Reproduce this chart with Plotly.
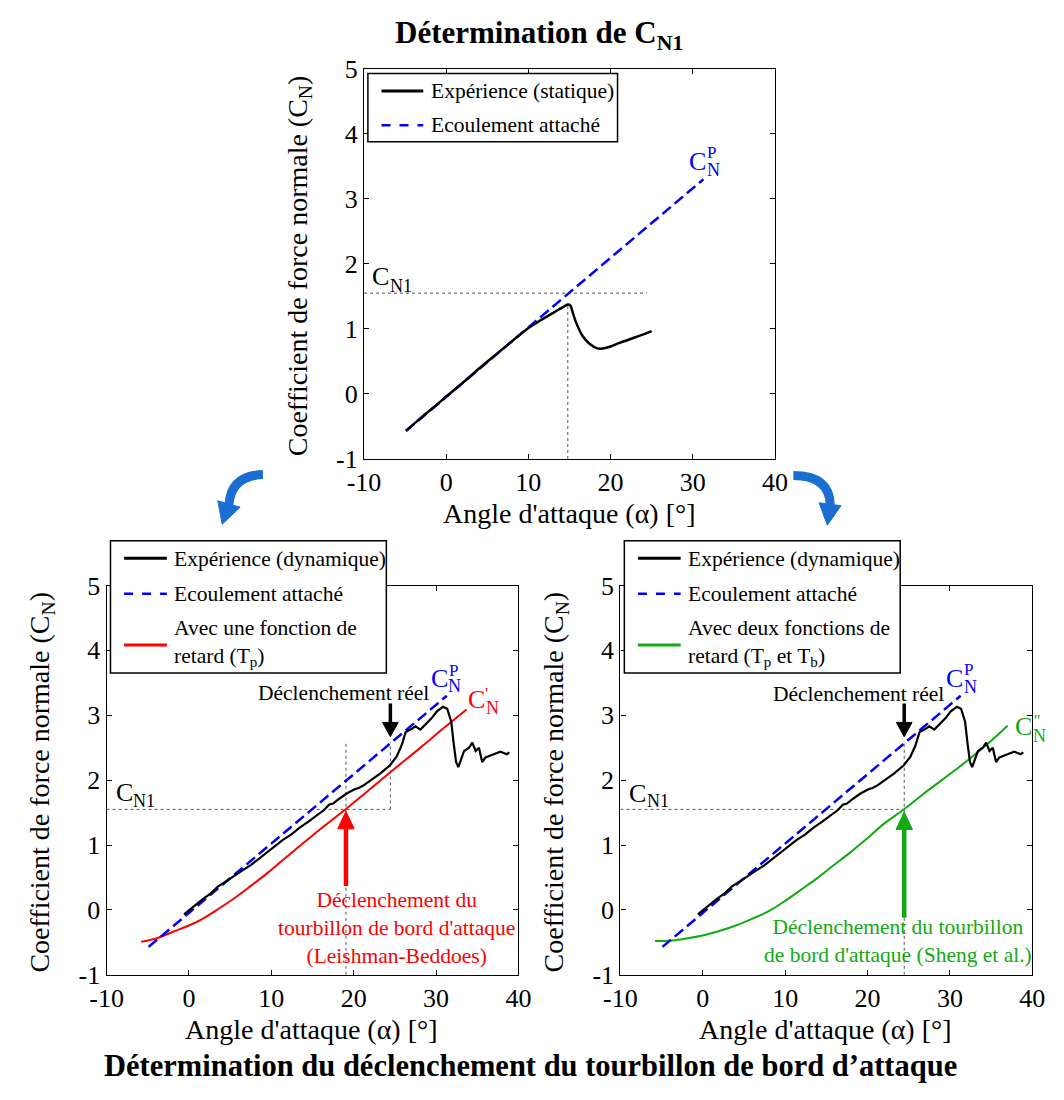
import numpy as np
import plotly.graph_objects as go

# target picture size and the browser's default body margin
W_PAGE, H_PAGE = 1064, 1100
OFF = 8
W, H = W_PAGE - 2 * OFF, H_PAGE - 2 * OFF
FONT = "Liberation Serif"

# ---------------- data ----------------
x_ticks = [-10, 0, 10, 20, 30, 40]
x_ticktext = ["-10", "0", "10", "20", "30", "40"]
y_ticks = [-1, 0, 1, 2, 3, 4, 5]
y_ticktext = ["-1", "0", "1", "2", "3", "4", "5"]

# static experiment (top panel)
alpha_static = [-4.9, -3.0, -1.0, 0.0, 2.0, 4.0, 6.0, 8.0, 10.1, 11.2, 12.4, 13.6, 14.4, 14.8,
                15.1, 15.4, 15.8, 16.6, 17.4, 18.4, 19.1, 20.0, 21.1, 22.1, 23.1, 24.1, 25.0]
cn_static = [-0.565, -0.36, -0.15, -0.04, 0.17, 0.39, 0.60, 0.81, 1.02, 1.11, 1.20, 1.29, 1.35, 1.375,
             1.36, 1.25, 1.10, 0.89, 0.775, 0.70, 0.70, 0.73, 0.785, 0.83, 0.875, 0.92, 0.965]

# attached flow (C_N^P)
alpha_attached = [-4.9, 31.3]
cn_attached = [-0.57, 3.3]

# dynamic experiment (bottom panels)
alpha_dyn = [-0.6, 0.4, 1.6, 2.6, 3.5, 4.5, 5.5, 6.5, 7.5, 8.5, 9.4, 10.4, 11.4, 12.4, 13.4, 14.5,
             15.5, 16.4, 17.0, 17.5, 18.2, 19.1, 20.1, 20.6, 21.2, 22.2, 23.2, 24.4, 25.2, 25.8,
             26.3, 26.9, 27.5, 28.1, 28.9, 29.5, 30.1, 30.85, 31.35, 31.84, 32.15, 32.43, 32.7,
             33.0, 33.4, 34.0, 34.4, 34.8, 35.2, 35.6, 36.0, 37.0, 37.8, 38.6, 38.9]
cn_dyn = [-0.07, 0.04, 0.16, 0.25, 0.36, 0.44, 0.53, 0.61, 0.69, 0.79, 0.88, 0.97, 1.08, 1.16, 1.265, 1.36,
          1.46, 1.54, 1.62, 1.64, 1.71, 1.79, 1.86, 1.88, 1.92, 2.01, 2.10, 2.23, 2.36, 2.53,
          2.74, 2.78, 2.83, 2.78, 2.88, 2.96, 3.06, 3.13, 3.10, 2.90, 2.55, 2.28, 2.20,
          2.32, 2.45, 2.50, 2.58, 2.45, 2.50, 2.28, 2.35, 2.40, 2.44, 2.40, 2.43]

# one delay function (Leishman-Beddoes, T_p)
alpha_lb = [-5.8, -4.0, -2.0, 0.0, 1.6, 3.5, 5.5, 7.5, 9.4, 11.4, 13.4, 15.7, 19.06, 22.0, 25.0, 28.0, 31.0, 33.7]
cn_lb = [-0.49, -0.44, -0.34, -0.24, -0.14, 0.01, 0.18, 0.37, 0.556, 0.77, 0.98, 1.22, 1.555, 1.865, 2.18, 2.49, 2.81, 3.09]

# two delay functions (Sheng et al., T_p and T_b)
alpha_sheng = [-5.8, -3.8, -2.0, 0.1, 2.0, 4.0, 6.0, 8.0, 10.0, 11.9, 13.9, 15.8, 17.8, 19.75, 22.0,
               24.47, 27.0, 29.0, 31.2, 34.3, 37.0]
cn_sheng = [-0.48, -0.47, -0.44, -0.39, -0.325, -0.24, -0.135, -0.02, 0.14, 0.31, 0.49, 0.68, 0.875, 1.08, 1.33,
            1.555, 1.81, 2.0, 2.21, 2.53, 2.84]

CN1 = 1.55
alpha_stall_static = 14.8
cn_peak_static = 1.375
alpha_onset_real = 24.45
alpha_onset_lb = 19.06
alpha_onset_sheng = 24.45
cn_dotted_top = 2.58
cn_arrow_real = [3.18, 2.67]      # tail, tip
cn_arrow_lb_tail = 0.37
cn_arrow_sheng_tail = -0.12

# ---------------- geometry (page pixels) ----------------
boxes = {"": (357, 780, 56, 457), "2": (92, 516, 587, 987), "3": (621, 1045, 587, 987)}


def px(x, y):
    return (x - OFF) / W, 1 - (y - OFF) / H


BLACK = "#000000"
BLUE = "#0000ff"
RED = "#ff0000"
GREEN = "#11aa11"
DOT = "#555555"

fig = go.Figure()


def add_line(xs, ys, ax, color, width, dash="solid", shape="linear"):
    fig.add_trace(go.Scatter(x=xs, y=ys, mode="lines", xaxis="x" + ax, yaxis="y" + ax,
                             line=dict(color=color, width=width, dash=dash, shape=shape),
                             showlegend=False, hoverinfo="skip"))


DASH = "11px,5px"
# top panel
add_line([-10, alpha_onset_real], [CN1, CN1], "", DOT, 1, "dot")
add_line([alpha_stall_static, alpha_stall_static], [-1, cn_peak_static], "", DOT, 1, "dot")
add_line(alpha_attached, cn_attached, "", BLUE, 2.5, DASH)
add_line(alpha_static, cn_static, "", BLACK, 2.5, shape="spline")

# bottom-left panel
add_line([-10, alpha_onset_real], [CN1, CN1], "2", DOT, 1, "dot")
add_line([alpha_onset_lb, alpha_onset_lb], [-1, cn_dotted_top], "2", DOT, 1, "dot")
add_line([alpha_onset_real, alpha_onset_real], [CN1, cn_dotted_top], "2", DOT, 1, "dot")
add_line(alpha_lb, cn_lb, "2", RED, 2, shape="spline")
add_line(alpha_attached, cn_attached, "2", BLUE, 2.5, DASH)
add_line(alpha_dyn, cn_dyn, "2", BLACK, 2.2)

# bottom-right panel
cn_att_onset = float(np.interp(alpha_onset_sheng, alpha_attached, cn_attached))
add_line([-10, alpha_onset_sheng], [CN1, CN1], "3", DOT, 1, "dot")
add_line([alpha_onset_sheng, alpha_onset_sheng], [-1, cn_att_onset], "3", DOT, 1, "dot")
add_line(alpha_sheng, cn_sheng, "3", GREEN, 2, shape="spline")
add_line(alpha_attached, cn_attached, "3", BLUE, 2.5, DASH)
add_line(alpha_dyn, cn_dyn, "3", BLACK, 2.2)

# ---------------- axes ----------------
layout_axes = {}
for k, (x0, x1, y0, y1) in boxes.items():
    common = dict(showline=True, linecolor="black", linewidth=1.3, mirror="allticks",
                  ticks="inside", ticklen=5, tickwidth=1, tickcolor="black",
                  showgrid=False, zeroline=False,
                  tickfont=dict(family=FONT, size=26, color="black"))
    dx0, dy1 = px(x0, y0)
    dx1, dy0 = px(x1, y1)
    layout_axes["xaxis" + k] = dict(common, domain=[dx0, dx1], range=[-10, 40],
                                    tickvals=x_ticks, ticktext=x_ticktext, anchor="y" + k)
    layout_axes["yaxis" + k] = dict(common, domain=[dy0, dy1], range=[-1, 5],
                                    tickvals=y_ticks, ticktext=y_ticktext, anchor="x" + k)

shapes = []
annotations = []


def ann(text, x, y, size=21, color="black", xanchor="center", yanchor="middle",
        align="center", angle=0):
    xx, yy = px(x, y)
    annotations.append(dict(text=text, x=xx, y=yy, xref="paper", yref="paper", showarrow=False,
                            font=dict(family=FONT, size=size, color=color), xanchor=xanchor,
                            yanchor=yanchor, align=align, textangle=angle))


# titles
ann("<b>Détermination de C<sub>N1</sub></b>", 537, 21, size=31)
ann("<b>Détermination du déclenchement du tourbillon de bord d’attaque</b>", 528, 1081, size=30.5)

# axis titles
xt = "Angle d'attaque (α) [°]"
yt = "Coefficient de force normale (C<sub>N</sub>)"
ann(xt, 568, 513, size=28)
ann(xt, 302, 1043, size=28)
ann(xt, 832, 1043, size=28)
ann(yt, 290, 258, size=28, angle=-90)
ann(yt, 25, 789, size=28, angle=-90)
ann(yt, 554, 789, size=28, angle=-90)


# legends
def legend(box, samples_x, text_x, entries):
    bx0, by0, bx1, by1 = box
    a, b = px(bx0, by0)
    c, d = px(bx1, by1)
    shapes.append(dict(type="rect", xref="paper", yref="paper", x0=a, y0=d, x1=c, y1=b,
                       fillcolor="white", line=dict(color="black", width=1.5), layer="above"))
    for (text, ty, ly, color, width, dash) in entries:
        sx0, sy = px(samples_x[0], ly)
        sx1, _ = px(samples_x[1], ly)
        shapes.append(dict(type="line", xref="paper", yref="paper", x0=sx0, y0=sy, x1=sx1, y1=sy,
                           line=dict(color=color, width=width, dash=dash), layer="above"))
        ann(text, text_x, ty, size=21.5, xanchor="left", align="left")


legend((361, 61, 618, 131), (375, 418), 424, [
    ("Expérience (statique)", 79, 79, BLACK, 3, "solid"),
    ("Ecoulement attaché", 114, 114, BLUE, 2.5, "dash"),
])
legend((96, 541, 380, 677), (110, 154), 159, [
    ("Expérience (dynamique)", 559.5, 559, BLACK, 3, "solid"),
    ("Ecoulement attaché", 596, 595.5, BLUE, 2.5, "dash"),
    ("Avec une fonction de<br>retard (T<sub>p</sub>)", 646, 648, RED, 3, "solid"),
])
legend((625, 541, 909, 677), (639, 683), 688, [
    ("Expérience (dynamique)", 559.5, 559, BLACK, 3, "solid"),
    ("Ecoulement attaché", 596, 595.5, BLUE, 2.5, "dash"),
    ("Avec deux fonctions de<br>retard (T<sub>p</sub> et T<sub>b</sub>)", 646, 648, GREEN, 3, "solid"),
])


# curve labels (C, sub, sup glyphs placed individually)
def label(parts):
    for text, x, y, size, color in parts:
        ann(text, x, y, size=size, color=color)


label([("C", 374, 269.5, 26, BLACK), ("N1", 395, 279, 18, BLACK),
       ("C", 700, 151, 26, BLUE), ("P", 715, 142.5, 17, BLUE), ("N", 716.5, 160, 18, BLUE)])
label([("C", 110, 800, 26, BLACK), ("N1", 131, 808, 18, BLACK),
       ("C", 435, 683, 26, BLUE), ("P", 449.5, 674, 17, BLUE), ("N", 450.5, 690, 18, BLUE),
       ("C", 473, 704, 26, RED), ("'", 483, 698, 17, RED), ("N", 489.5, 713, 18, RED)])
label([("C", 639, 800.5, 26, BLACK), ("N1", 660, 808, 18, BLACK),
       ("C", 965, 683, 26, BLUE), ("P", 979, 673, 17, BLUE), ("N", 981, 691, 18, BLUE),
       ("C", 1036, 732, 26, GREEN), ("''", 1049.5, 726, 17, GREEN), ("N", 1052, 742, 18, GREEN)])

ann("Déclenchement réel", 426, 697, size=21.5, xanchor="right")
ann("Déclenchement réel", 956, 698, size=21.5, xanchor="right")
ann("Déclenchement du<br>tourbillon de bord d'attaque<br>(Leishman-Beddoes)", 390, 939, size=21.5, color=RED)
ann("Déclenchement du tourbillon<br>de bord d'attaque (Sheng et al.)", 907, 952.5, size=21.5, color=GREEN)


# vertical arrows in data coordinates
def v_arrow(ax, x, y_tail, y_tip, color, shaft_w, half_w, head_len):
    up = y_tip > y_tail
    yb = y_tip - head_len if up else y_tip + head_len
    shapes.append(dict(type="line", xref="x" + ax, yref="y" + ax, x0=x, x1=x, y0=y_tail, y1=yb,
                       line=dict(color=color, width=shaft_w), layer="above"))
    shapes.append(dict(type="path", xref="x" + ax, yref="y" + ax,
                       path=f"M {x - half_w},{yb} L {x + half_w},{yb} L {x},{y_tip} Z",
                       fillcolor=color, line=dict(color=color, width=1), layer="above"))


v_arrow("2", alpha_onset_real, cn_arrow_real[0], cn_arrow_real[1], BLACK, 3.5, 0.95, 0.22)
v_arrow("3", alpha_onset_sheng, cn_arrow_real[0], cn_arrow_real[1], BLACK, 3.5, 0.95, 0.22)
v_arrow("2", alpha_onset_lb, cn_arrow_lb_tail, CN1 - 0.03, RED, 4.5, 1.0, 0.27)
v_arrow("3", alpha_onset_sheng, cn_arrow_sheng_tail, CN1 - 0.04, GREEN, 4.5, 1.0, 0.27)

# curved blue arrows between panels (paper coordinates)
ARROW_BLUE = "#1a6dd3"


def ppath(cmds):
    out = []
    for c in cmds:
        if isinstance(c, str):
            out.append(c)
        else:
            a, b = px(*c)
            out.append(f"{a:.5f},{b:.5f}")
    return " ".join(out)


shapes.append(dict(type="path", xref="paper", yref="paper",
                   path=ppath(["M", (253, 473), "Q", (220, 474), (218, 504)]),
                   line=dict(color=ARROW_BLUE, width=9), layer="above"))
shapes.append(dict(type="path", xref="paper", yref="paper",
                   path=ppath(["M", (206.5, 500), "L", (229.5, 506.5), "L", (211, 524), "Z"]),
                   fillcolor=ARROW_BLUE, line=dict(color=ARROW_BLUE, width=1), layer="above"))
shapes.append(dict(type="path", xref="paper", yref="paper",
                   path=ppath(["M", (799, 474), "Q", (836, 474), (837, 504)]),
                   line=dict(color=ARROW_BLUE, width=9), layer="above"))
shapes.append(dict(type="path", xref="paper", yref="paper",
                   path=ppath(["M", (825.5, 502), "L", (848, 505), "L", (834, 525), "Z"]),
                   fillcolor=ARROW_BLUE, line=dict(color=ARROW_BLUE, width=1), layer="above"))

fig.update_layout(width=W, height=H, margin=dict(l=0, r=0, t=0, b=0),
                  paper_bgcolor="white", plot_bgcolor="white",
                  shapes=shapes, annotations=annotations, **layout_axes)

fig.write_html("out.html", config={"displayModeBar": False})
